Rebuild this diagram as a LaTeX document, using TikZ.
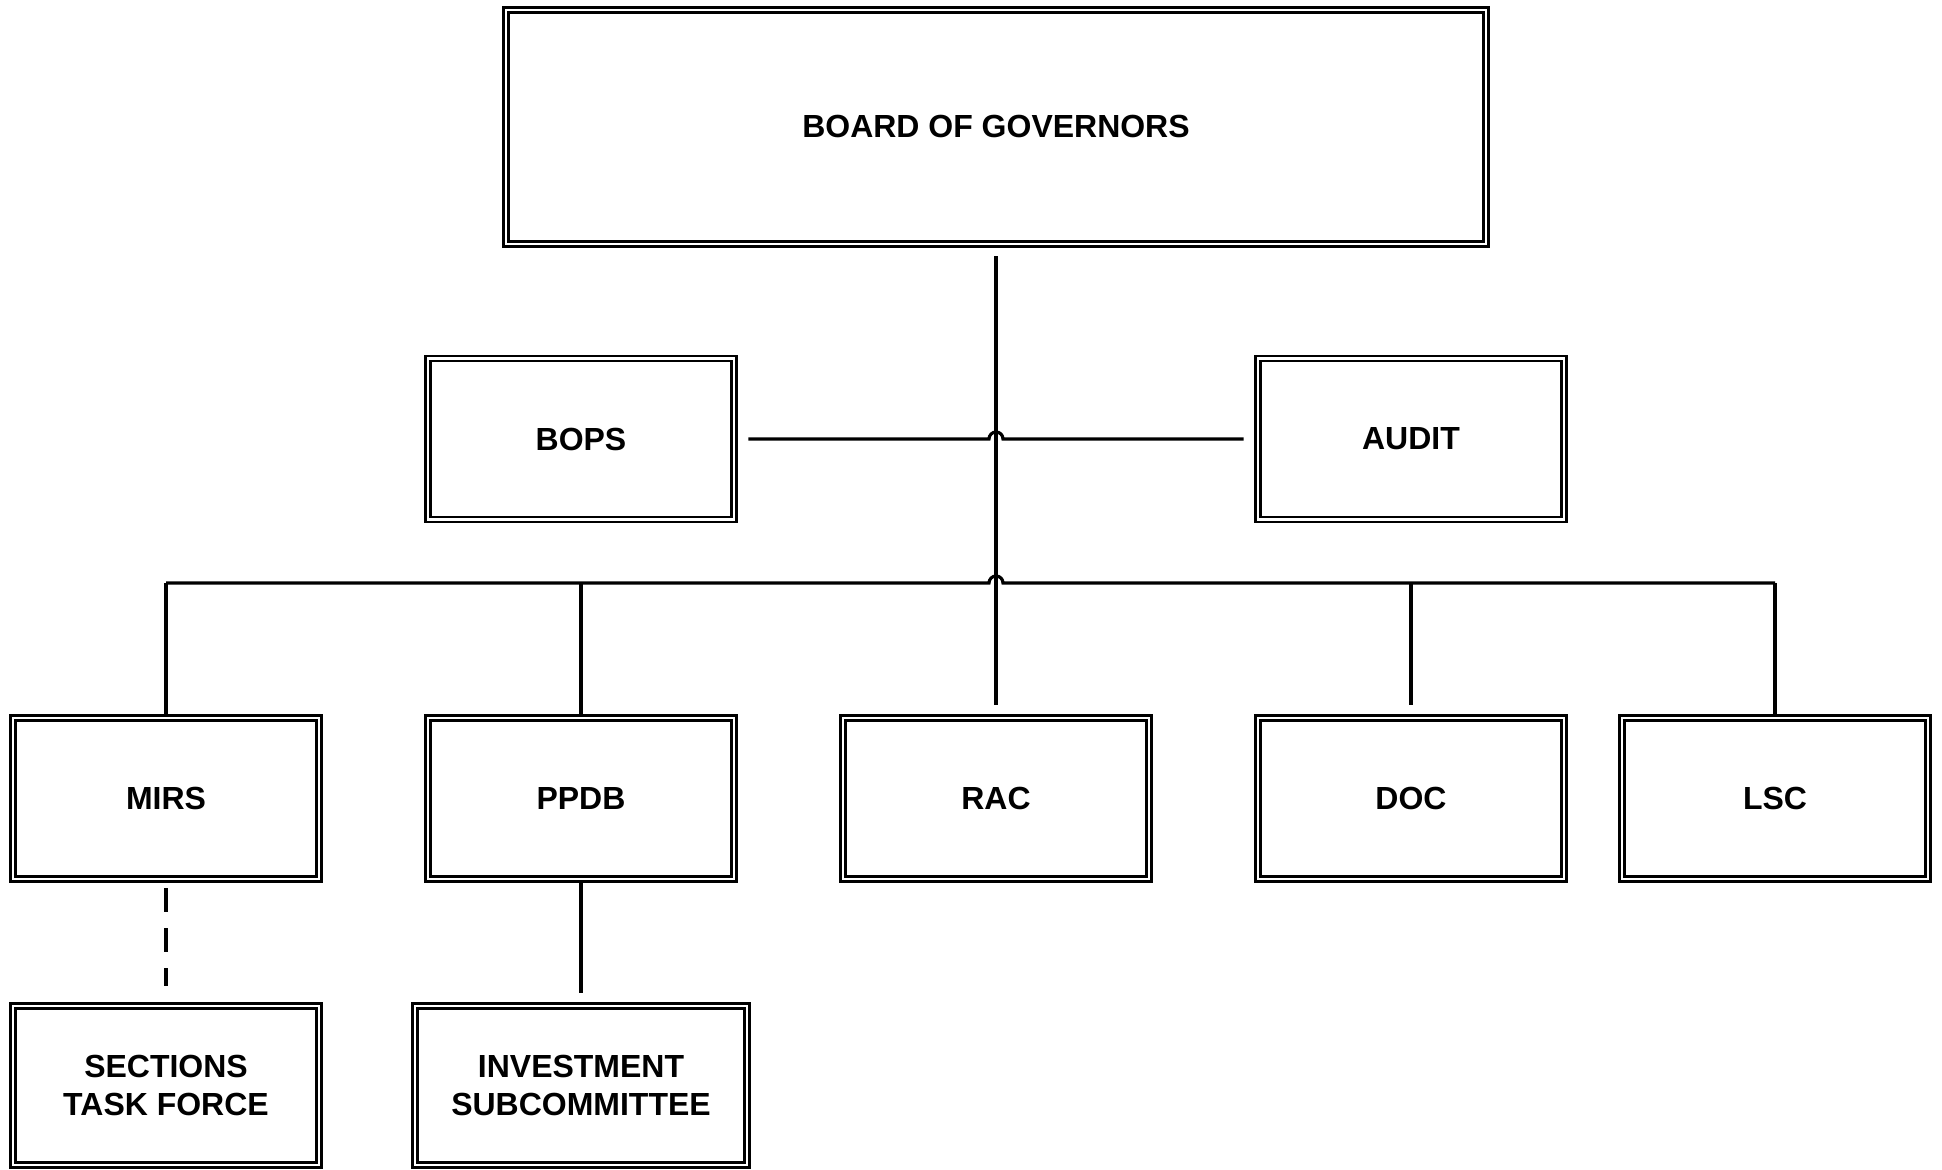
\documentclass[tikz,border=0pt]{standalone}
\usepackage{fontspec}
\setmainfont{Liberation Sans}
\usetikzlibrary{positioning,calc}

\begin{document}
\begin{tikzpicture}[
    unit/.style={draw, double, line width=0.8pt, double distance=0.6pt,
      minimum width=3.06cm, minimum height=1.61cm, inner sep=0pt,
      align=center, font=\fontsize{9.1}{10.9}\selectfont\bfseries},
    link/.style={line width=0.9pt},
  ]
  \useasboundingbox (0,0) rectangle (19.42,-11.70);

  % boxes
  \node[unit, minimum width=9.80cm, minimum height=2.34cm] at (9.96,-1.27) (board) {BOARD OF GOVERNORS};
  \node[unit] at (5.81,-4.39) (bops) {BOPS};
  \node[unit] at (14.11,-4.39) (audit) {AUDIT};
  \node[unit] at (1.66,-7.985) (mirs) {MIRS};
  \node[unit] at (5.81,-7.985) (ppdb) {PPDB};
  \node[unit] at (9.96,-7.985) (rac) {RAC};
  \node[unit] at (14.11,-7.985) (doc) {DOC};
  \node[unit] at (17.75,-7.985) (lsc) {LSC};
  \node[unit, minimum height=1.59cm] at (1.66,-10.855) (stf) {SECTIONS\\TASK FORCE};
  \node[unit, minimum width=3.32cm, minimum height=1.59cm] at (5.81,-10.855) (invest) {INVESTMENT\\SUBCOMMITTEE};

  \coordinate (bus) at (9.96,-5.83);

  % main trunk
  \draw[link] ([yshift=-0.11cm]board.south) -- ([yshift=0.12cm]rac.north);

  % side line with a hop over the trunk
  \draw[link] ([xshift=0.13cm]bops.east)
    -- ([xshift=-0.07cm]bops.east -| board.south)
    arc[start angle=180, end angle=0, radius=0.07cm]
    -- ([xshift=-0.13cm]audit.west);

  % bus across the committees
  \draw[link] (mirs.north |- bus) -- ([xshift=-0.07cm]bus)
    arc[start angle=180, end angle=0, radius=0.07cm]
    -- (lsc.north |- bus);
  \foreach \n in {mirs,ppdb,lsc}
    \draw[link] (\n.north |- bus) -- (\n.north);
  \draw[link] (doc.north |- bus) -- ([yshift=0.12cm]doc.north);

  % sub-units
  \draw[link, line width=1.05pt, dash pattern=on 0.24cm off 0.16cm]
    ([yshift=-0.08cm]mirs.south) -- ([yshift=0.19cm]stf.north);
  \draw[link] (ppdb.south) -- ([yshift=0.12cm]invest.north);
\end{tikzpicture}
\end{document}
